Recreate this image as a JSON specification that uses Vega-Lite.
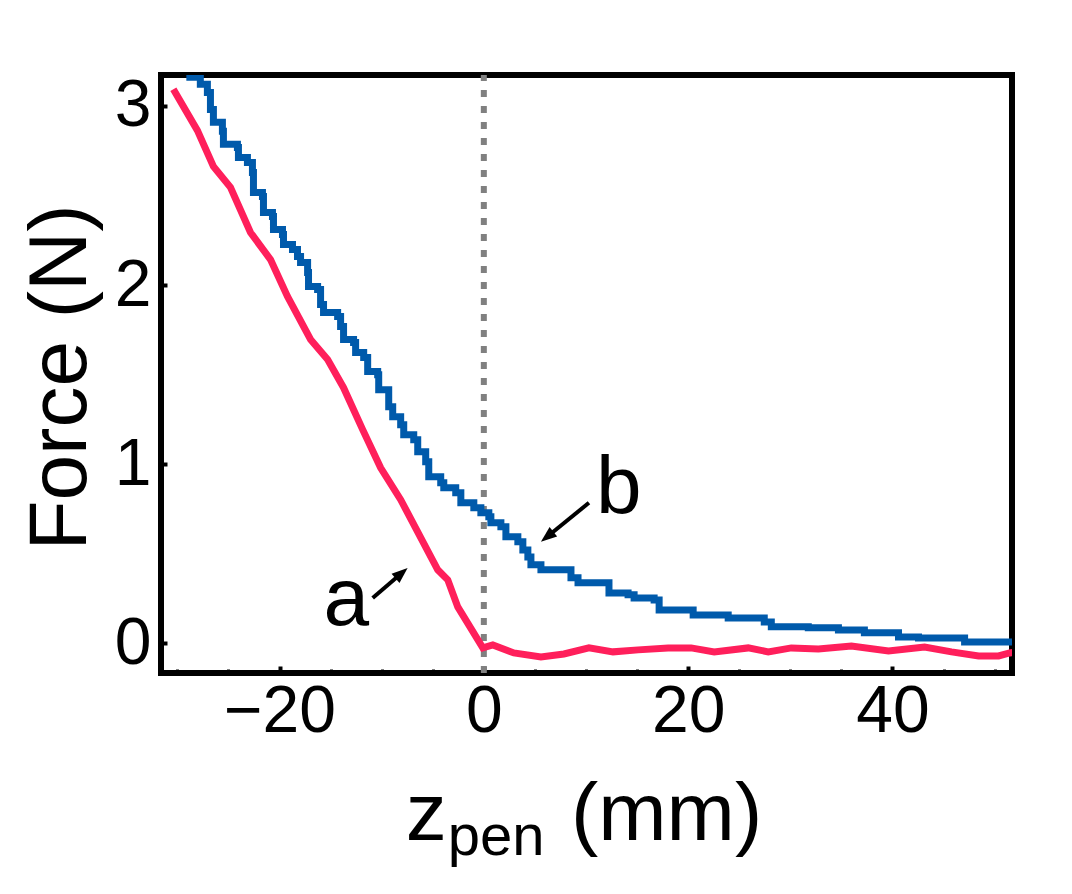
{
  "$schema": "https://vega.github.io/schema/vega-lite/v6.json",
  "width": 851,
  "height": 598,
  "autosize": "none",
  "padding": {"left": 161, "top": 75, "right": 60, "bottom": 221},
  "config": {
    "view": {"stroke": "black", "strokeWidth": 6},
    "font": "Liberation Sans"
  },
  "datasets": {
    "curveA": [
      {"x": -30.39, "y": 3.092}, {"x": -28.04, "y": 2.863}, {"x": -26.47, "y": 2.662},
      {"x": -24.8, "y": 2.545}, {"x": -22.84, "y": 2.293}, {"x": -20.88, "y": 2.142},
      {"x": -19.22, "y": 1.936}, {"x": -16.96, "y": 1.696}, {"x": -15.29, "y": 1.584},
      {"x": -13.73, "y": 1.427}, {"x": -11.86, "y": 1.193}, {"x": -10.1, "y": 0.98},
      {"x": -8.14, "y": 0.802}, {"x": -4.51, "y": 0.411}, {"x": -3.53, "y": 0.355},
      {"x": -2.55, "y": 0.204}, {"x": -0.1, "y": -0.025}, {"x": 0.88, "y": -0.008},
      {"x": 2.94, "y": -0.053}, {"x": 5.59, "y": -0.075}, {"x": 7.84, "y": -0.059},
      {"x": 10.29, "y": -0.025}, {"x": 12.65, "y": -0.047}, {"x": 15.1, "y": -0.036},
      {"x": 18.04, "y": -0.025}, {"x": 20.29, "y": -0.025}, {"x": 22.55, "y": -0.047},
      {"x": 25.88, "y": -0.025}, {"x": 27.84, "y": -0.047}, {"x": 30.1, "y": -0.025},
      {"x": 32.75, "y": -0.031}, {"x": 35.98, "y": -0.014}, {"x": 39.61, "y": -0.042},
      {"x": 43.14, "y": -0.02}, {"x": 45.78, "y": -0.047}, {"x": 48.43, "y": -0.07},
      {"x": 50.39, "y": -0.07}, {"x": 51.47, "y": -0.053}, {"x": 52.5, "y": -0.045}
    ],
    "curveB": [
      {"x": -29.12, "y": 3.159}, {"x": -27.75, "y": 3.12}, {"x": -27.06, "y": 3.075},
      {"x": -26.76, "y": 2.98}, {"x": -26.47, "y": 2.908}, {"x": -25.59, "y": 2.858},
      {"x": -25.49, "y": 2.785}, {"x": -24.12, "y": 2.768}, {"x": -24.02, "y": 2.712},
      {"x": -23.14, "y": 2.684}, {"x": -22.65, "y": 2.628}, {"x": -22.55, "y": 2.517},
      {"x": -21.67, "y": 2.494}, {"x": -21.57, "y": 2.405}, {"x": -20.69, "y": 2.383},
      {"x": -20.59, "y": 2.31}, {"x": -19.71, "y": 2.282}, {"x": -19.61, "y": 2.226},
      {"x": -18.73, "y": 2.198}, {"x": -18.24, "y": 2.159}, {"x": -17.94, "y": 2.126},
      {"x": -17.25, "y": 2.07}, {"x": -17.16, "y": 1.992}, {"x": -16.27, "y": 1.975},
      {"x": -15.98, "y": 1.891}, {"x": -15.69, "y": 1.846}, {"x": -14.31, "y": 1.824},
      {"x": -14.02, "y": 1.768}, {"x": -13.73, "y": 1.696}, {"x": -12.75, "y": 1.679},
      {"x": -12.55, "y": 1.623}, {"x": -11.76, "y": 1.595}, {"x": -11.37, "y": 1.517},
      {"x": -10.39, "y": 1.5}, {"x": -10.29, "y": 1.416}, {"x": -9.31, "y": 1.321},
      {"x": -8.92, "y": 1.265}, {"x": -8.14, "y": 1.221}, {"x": -7.84, "y": 1.165},
      {"x": -6.86, "y": 1.137}, {"x": -6.47, "y": 1.07}, {"x": -5.69, "y": 1.014},
      {"x": -5.39, "y": 0.93}, {"x": -4.22, "y": 0.897}, {"x": -3.92, "y": 0.869},
      {"x": -2.75, "y": 0.841}, {"x": -2.25, "y": 0.785}, {"x": -0.98, "y": 0.757},
      {"x": -0.29, "y": 0.729}, {"x": 0.49, "y": 0.707}, {"x": 0.69, "y": 0.673},
      {"x": 1.67, "y": 0.651}, {"x": 2.16, "y": 0.595}, {"x": 3.33, "y": 0.567},
      {"x": 3.82, "y": 0.522}, {"x": 4.31, "y": 0.483}, {"x": 4.61, "y": 0.439},
      {"x": 5.59, "y": 0.411}, {"x": 8.53, "y": 0.366}, {"x": 9.22, "y": 0.338},
      {"x": 12.25, "y": 0.282}, {"x": 14.12, "y": 0.271}, {"x": 14.71, "y": 0.254},
      {"x": 16.67, "y": 0.243}, {"x": 17.16, "y": 0.187}, {"x": 20.49, "y": 0.159},
      {"x": 23.92, "y": 0.142}, {"x": 27.45, "y": 0.12}, {"x": 28.14, "y": 0.093},
      {"x": 31.76, "y": 0.087}, {"x": 34.71, "y": 0.075}, {"x": 37.25, "y": 0.059},
      {"x": 40.59, "y": 0.036}, {"x": 42.55, "y": 0.031}, {"x": 47.06, "y": 0.008},
      {"x": 52.5, "y": 0.008}
    ],
    "zeroLine": [{"x": 0, "y": -0.165}],
    "arrows": [
      {"id": "a", "x": -10.88, "y": 0.254, "x2": -8.2, "y2": 0.385},
      {"id": "b", "x": 10.29, "y": 0.785, "x2": 6.35, "y2": 0.602}
    ],
    "heads": [
      {"id": "a", "x": -8.2, "y": 0.385},
      {"id": "b", "x": 6.35, "y": 0.602}
    ],
    "labels": [
      {"kind": "big", "text": "z", "x": -7.65, "y": -1.098},
      {"kind": "big", "text": "(mm)", "x": 8.53, "y": -1.098},
      {"kind": "sub", "text": "pen", "x": -3.53, "y": -1.18},
      {"kind": "big", "text": "a", "x": -15.7, "y": 0.103},
      {"kind": "big", "text": "b", "x": 10.98, "y": 0.729}
    ]
  },
  "encoding": {
    "x": {
      "field": "x",
      "type": "quantitative",
      "title": null,
      "scale": {"domain": [-31.6, 51.7], "nice": false, "zero": false},
      "axis": {
        "orient": "bottom",
        "domain": false,
        "grid": false,
        "values": [-30, -25, -20, -15, -10, -5, 0, 5, 10, 15, 20, 25, 30, 35, 40, 45, 50],
        "labelExpr": "datum.value % 20 === 0 ? datum.label : ''",
        "tickColor": "black",
        "tickSize": {"condition": {"test": "datum.value % 20 === 0", "value": -7}, "value": -4},
        "tickWidth": {"condition": {"test": "datum.value % 20 === 0", "value": 4}, "value": 3},
        "labelFont": "Liberation Sans",
        "labelFontSize": 66,
        "labelColor": "black",
        "labelPadding": 13,
        "labelFlush": false,
        "labelOverlap": false
      }
    },
    "y": {
      "field": "y",
      "type": "quantitative",
      "title": "Force (N)",
      "scale": {"domain": [-0.165, 3.172], "nice": false, "zero": false},
      "axis": {
        "orient": "left",
        "domain": false,
        "grid": false,
        "values": [0, 1, 2, 3],
        "tickColor": "black",
        "tickSize": -6,
        "tickWidth": 4,
        "labelFont": "Liberation Sans",
        "labelFontSize": 66,
        "labelColor": "black",
        "labelPadding": 16,
        "labelFlush": false,
        "labelOverlap": false,
        "titleFont": "Liberation Sans",
        "titleFontSize": 82,
        "titleFontWeight": "normal",
        "titleColor": "black",
        "titleAngle": 270,
        "titleAlign": "center",
        "titleBaseline": "alphabetic",
        "titleX": -76,
        "titleY": 302
      }
    }
  },
  "layer": [
    {
      "data": {"name": "zeroLine"},
      "mark": {"type": "rule", "color": "#808080", "strokeWidth": 6, "strokeDash": [7, 9], "clip": true},
      "encoding": {"y2": {"datum": 3.172}}
    },
    {
      "data": {"name": "curveA"},
      "mark": {"type": "line", "color": "#ff1f5b", "strokeWidth": 7, "clip": true}
    },
    {
      "data": {"name": "curveB"},
      "mark": {"type": "line", "color": "#005aab", "strokeWidth": 7, "interpolate": "step-after", "clip": true}
    },
    {
      "data": {"name": "arrows"},
      "mark": {"type": "rule", "color": "black", "strokeWidth": 4},
      "encoding": {
        "x2": {"field": "x2"},
        "y2": {"field": "y2"}
      }
    },
    {
      "data": {"name": "heads"},
      "transform": [{"filter": "datum.id === 'a'"}],
      "mark": {"type": "point", "shape": "M0,-1L-0.6,0.6L0.6,0.6Z", "filled": true, "color": "black", "opacity": 1, "size": 400, "angle": 49}
    },
    {
      "data": {"name": "heads"},
      "transform": [{"filter": "datum.id === 'b'"}],
      "mark": {"type": "point", "shape": "M0,-1L-0.6,0.6L0.6,0.6Z", "filled": true, "color": "black", "opacity": 1, "size": 400, "angle": 231}
    },
    {
      "data": {"name": "labels"},
      "transform": [{"filter": "datum.kind === 'big'"}],
      "mark": {"type": "text", "align": "left", "baseline": "alphabetic", "fontSize": 82, "font": "Liberation Sans", "color": "black", "clip": false},
      "encoding": {"text": {"field": "text"}}
    },
    {
      "data": {"name": "labels"},
      "transform": [{"filter": "datum.kind === 'sub'"}],
      "mark": {"type": "text", "align": "left", "baseline": "alphabetic", "fontSize": 58, "font": "Liberation Sans", "color": "black", "clip": false},
      "encoding": {"text": {"field": "text"}}
    }
  ]
}
